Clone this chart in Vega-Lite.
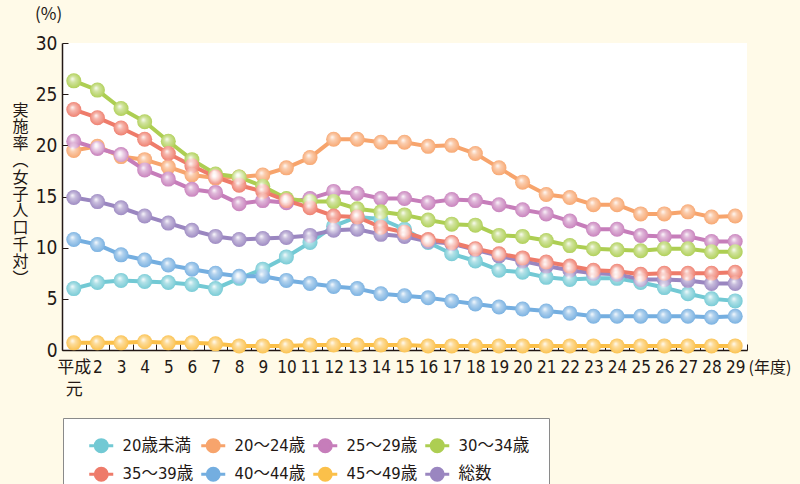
{
  "$schema": "https://vega.github.io/schema/vega-lite/v6.json",
  "width": 685,
  "height": 307,
  "autosize": {"type": "none"},
  "padding": {"left": 62, "top": 43, "right": 53, "bottom": 134},
  "background": "#FFFAE8",
  "config": {
    "view": {"fill": "white", "stroke": null},
    "font": "Liberation Sans Narrow, DejaVu Sans Condensed, Roboto Condensed, Noto Sans CJK JP"
  },
  "title": {
    "text": "(%)",
    "anchor": "start",
    "frame": "group",
    "dx": -27,
    "offset": 10,
    "fontSize": 17,
    "fontWeight": "normal",
    "font": "Noto Sans CJK JP",
    "color": "#231815"
  },
  "datasets": {
    "rates": [
      {"year":1,"group":"20歳未満","value":6.0},{"year":2,"group":"20歳未満","value":6.6},{"year":3,"group":"20歳未満","value":6.8},{"year":4,"group":"20歳未満","value":6.7},{"year":5,"group":"20歳未満","value":6.6},{"year":6,"group":"20歳未満","value":6.4},{"year":7,"group":"20歳未満","value":6.0},{"year":8,"group":"20歳未満","value":7.0},{"year":9,"group":"20歳未満","value":7.9},{"year":10,"group":"20歳未満","value":9.1},{"year":11,"group":"20歳未満","value":10.5},{"year":12,"group":"20歳未満","value":12.1},{"year":13,"group":"20歳未満","value":13.0},{"year":14,"group":"20歳未満","value":12.8},{"year":15,"group":"20歳未満","value":11.8},{"year":16,"group":"20歳未満","value":10.5},{"year":17,"group":"20歳未満","value":9.4},{"year":18,"group":"20歳未満","value":8.7},{"year":19,"group":"20歳未満","value":7.8},{"year":20,"group":"20歳未満","value":7.6},{"year":21,"group":"20歳未満","value":7.1},{"year":22,"group":"20歳未満","value":6.9},{"year":23,"group":"20歳未満","value":7.0},{"year":24,"group":"20歳未満","value":7.0},{"year":25,"group":"20歳未満","value":6.6},{"year":26,"group":"20歳未満","value":6.1},{"year":27,"group":"20歳未満","value":5.5},{"year":28,"group":"20歳未満","value":5.0},{"year":29,"group":"20歳未満","value":4.8},
      {"year":1,"group":"総数","value":14.9},{"year":2,"group":"総数","value":14.5},{"year":3,"group":"総数","value":13.9},{"year":4,"group":"総数","value":13.1},{"year":5,"group":"総数","value":12.4},{"year":6,"group":"総数","value":11.7},{"year":7,"group":"総数","value":11.1},{"year":8,"group":"総数","value":10.8},{"year":9,"group":"総数","value":10.9},{"year":10,"group":"総数","value":11.0},{"year":11,"group":"総数","value":11.2},{"year":12,"group":"総数","value":11.7},{"year":13,"group":"総数","value":11.8},{"year":14,"group":"総数","value":11.3},{"year":15,"group":"総数","value":11.1},{"year":16,"group":"総数","value":10.6},{"year":17,"group":"総数","value":10.4},{"year":18,"group":"総数","value":9.8},{"year":19,"group":"総数","value":9.2},{"year":20,"group":"総数","value":8.7},{"year":21,"group":"総数","value":8.2},{"year":22,"group":"総数","value":7.8},{"year":23,"group":"総数","value":7.5},{"year":24,"group":"総数","value":7.4},{"year":25,"group":"総数","value":6.9},{"year":26,"group":"総数","value":6.9},{"year":27,"group":"総数","value":6.8},{"year":28,"group":"総数","value":6.5},{"year":29,"group":"総数","value":6.5},
      {"year":1,"group":"20～24歳","value":19.5},{"year":2,"group":"20～24歳","value":19.9},{"year":3,"group":"20～24歳","value":18.9},{"year":4,"group":"20～24歳","value":18.6},{"year":5,"group":"20～24歳","value":17.9},{"year":6,"group":"20～24歳","value":17.1},{"year":7,"group":"20～24歳","value":16.8},{"year":8,"group":"20～24歳","value":16.9},{"year":9,"group":"20～24歳","value":17.1},{"year":10,"group":"20～24歳","value":17.8},{"year":11,"group":"20～24歳","value":18.8},{"year":12,"group":"20～24歳","value":20.6},{"year":13,"group":"20～24歳","value":20.6},{"year":14,"group":"20～24歳","value":20.3},{"year":15,"group":"20～24歳","value":20.3},{"year":16,"group":"20～24歳","value":19.9},{"year":17,"group":"20～24歳","value":20.0},{"year":18,"group":"20～24歳","value":19.2},{"year":19,"group":"20～24歳","value":17.8},{"year":20,"group":"20～24歳","value":16.4},{"year":21,"group":"20～24歳","value":15.2},{"year":22,"group":"20～24歳","value":14.9},{"year":23,"group":"20～24歳","value":14.2},{"year":24,"group":"20～24歳","value":14.2},{"year":25,"group":"20～24歳","value":13.3},{"year":26,"group":"20～24歳","value":13.3},{"year":27,"group":"20～24歳","value":13.5},{"year":28,"group":"20～24歳","value":13.0},{"year":29,"group":"20～24歳","value":13.1},
      {"year":1,"group":"25～29歳","value":20.4},{"year":2,"group":"25～29歳","value":19.7},{"year":3,"group":"25～29歳","value":19.1},{"year":4,"group":"25～29歳","value":17.6},{"year":5,"group":"25～29歳","value":16.7},{"year":6,"group":"25～29歳","value":15.7},{"year":7,"group":"25～29歳","value":15.4},{"year":8,"group":"25～29歳","value":14.3},{"year":9,"group":"25～29歳","value":14.6},{"year":10,"group":"25～29歳","value":14.4},{"year":11,"group":"25～29歳","value":14.8},{"year":12,"group":"25～29歳","value":15.5},{"year":13,"group":"25～29歳","value":15.3},{"year":14,"group":"25～29歳","value":14.8},{"year":15,"group":"25～29歳","value":14.8},{"year":16,"group":"25～29歳","value":14.4},{"year":17,"group":"25～29歳","value":14.7},{"year":18,"group":"25～29歳","value":14.6},{"year":19,"group":"25～29歳","value":14.2},{"year":20,"group":"25～29歳","value":13.7},{"year":21,"group":"25～29歳","value":13.3},{"year":22,"group":"25～29歳","value":12.6},{"year":23,"group":"25～29歳","value":11.8},{"year":24,"group":"25～29歳","value":11.8},{"year":25,"group":"25～29歳","value":11.2},{"year":26,"group":"25～29歳","value":11.1},{"year":27,"group":"25～29歳","value":11.1},{"year":28,"group":"25～29歳","value":10.6},{"year":29,"group":"25～29歳","value":10.6},
      {"year":1,"group":"30～34歳","value":26.3},{"year":2,"group":"30～34歳","value":25.4},{"year":3,"group":"30～34歳","value":23.6},{"year":4,"group":"30～34歳","value":22.3},{"year":5,"group":"30～34歳","value":20.4},{"year":6,"group":"30～34歳","value":18.6},{"year":7,"group":"30～34歳","value":17.2},{"year":8,"group":"30～34歳","value":16.9},{"year":9,"group":"30～34歳","value":16.0},{"year":10,"group":"30～34歳","value":14.8},{"year":11,"group":"30～34歳","value":14.5},{"year":12,"group":"30～34歳","value":14.5},{"year":13,"group":"30～34歳","value":13.8},{"year":14,"group":"30～34歳","value":13.5},{"year":15,"group":"30～34歳","value":13.2},{"year":16,"group":"30～34歳","value":12.7},{"year":17,"group":"30～34歳","value":12.3},{"year":18,"group":"30～34歳","value":12.2},{"year":19,"group":"30～34歳","value":11.2},{"year":20,"group":"30～34歳","value":11.1},{"year":21,"group":"30～34歳","value":10.7},{"year":22,"group":"30～34歳","value":10.2},{"year":23,"group":"30～34歳","value":9.9},{"year":24,"group":"30～34歳","value":9.8},{"year":25,"group":"30～34歳","value":9.7},{"year":26,"group":"30～34歳","value":9.9},{"year":27,"group":"30～34歳","value":9.9},{"year":28,"group":"30～34歳","value":9.6},{"year":29,"group":"30～34歳","value":9.6},
      {"year":1,"group":"35～39歳","value":23.5},{"year":2,"group":"35～39歳","value":22.7},{"year":3,"group":"35～39歳","value":21.7},{"year":4,"group":"35～39歳","value":20.6},{"year":5,"group":"35～39歳","value":19.2},{"year":6,"group":"35～39歳","value":18.0},{"year":7,"group":"35～39歳","value":16.9},{"year":8,"group":"35～39歳","value":16.1},{"year":9,"group":"35～39歳","value":15.5},{"year":10,"group":"35～39歳","value":14.6},{"year":11,"group":"35～39歳","value":13.9},{"year":12,"group":"35～39歳","value":13.1},{"year":13,"group":"35～39歳","value":13.0},{"year":14,"group":"35～39歳","value":12.0},{"year":15,"group":"35～39歳","value":11.5},{"year":16,"group":"35～39歳","value":10.8},{"year":17,"group":"35～39歳","value":10.5},{"year":18,"group":"35～39歳","value":9.9},{"year":19,"group":"35～39歳","value":9.4},{"year":20,"group":"35～39歳","value":9.0},{"year":21,"group":"35～39歳","value":8.6},{"year":22,"group":"35～39歳","value":8.2},{"year":23,"group":"35～39歳","value":7.8},{"year":24,"group":"35～39歳","value":7.7},{"year":25,"group":"35～39歳","value":7.4},{"year":26,"group":"35～39歳","value":7.5},{"year":27,"group":"35～39歳","value":7.5},{"year":28,"group":"35～39歳","value":7.5},{"year":29,"group":"35～39歳","value":7.6},
      {"year":1,"group":"40～44歳","value":10.8},{"year":2,"group":"40～44歳","value":10.3},{"year":3,"group":"40～44歳","value":9.3},{"year":4,"group":"40～44歳","value":8.8},{"year":5,"group":"40～44歳","value":8.3},{"year":6,"group":"40～44歳","value":7.9},{"year":7,"group":"40～44歳","value":7.5},{"year":8,"group":"40～44歳","value":7.2},{"year":9,"group":"40～44歳","value":7.2},{"year":10,"group":"40～44歳","value":6.8},{"year":11,"group":"40～44歳","value":6.5},{"year":12,"group":"40～44歳","value":6.2},{"year":13,"group":"40～44歳","value":6.0},{"year":14,"group":"40～44歳","value":5.5},{"year":15,"group":"40～44歳","value":5.3},{"year":16,"group":"40～44歳","value":5.1},{"year":17,"group":"40～44歳","value":4.8},{"year":18,"group":"40～44歳","value":4.5},{"year":19,"group":"40～44歳","value":4.2},{"year":20,"group":"40～44歳","value":4.0},{"year":21,"group":"40～44歳","value":3.8},{"year":22,"group":"40～44歳","value":3.6},{"year":23,"group":"40～44歳","value":3.3},{"year":24,"group":"40～44歳","value":3.3},{"year":25,"group":"40～44歳","value":3.3},{"year":26,"group":"40～44歳","value":3.3},{"year":27,"group":"40～44歳","value":3.3},{"year":28,"group":"40～44歳","value":3.2},{"year":29,"group":"40～44歳","value":3.3},
      {"year":1,"group":"45～49歳","value":0.7},{"year":2,"group":"45～49歳","value":0.7},{"year":3,"group":"45～49歳","value":0.7},{"year":4,"group":"45～49歳","value":0.8},{"year":5,"group":"45～49歳","value":0.7},{"year":6,"group":"45～49歳","value":0.7},{"year":7,"group":"45～49歳","value":0.6},{"year":8,"group":"45～49歳","value":0.4},{"year":9,"group":"45～49歳","value":0.4},{"year":10,"group":"45～49歳","value":0.4},{"year":11,"group":"45～49歳","value":0.5},{"year":12,"group":"45～49歳","value":0.5},{"year":13,"group":"45～49歳","value":0.5},{"year":14,"group":"45～49歳","value":0.5},{"year":15,"group":"45～49歳","value":0.5},{"year":16,"group":"45～49歳","value":0.4},{"year":17,"group":"45～49歳","value":0.4},{"year":18,"group":"45～49歳","value":0.4},{"year":19,"group":"45～49歳","value":0.4},{"year":20,"group":"45～49歳","value":0.4},{"year":21,"group":"45～49歳","value":0.4},{"year":22,"group":"45～49歳","value":0.4},{"year":23,"group":"45～49歳","value":0.4},{"year":24,"group":"45～49歳","value":0.4},{"year":25,"group":"45～49歳","value":0.4},{"year":26,"group":"45～49歳","value":0.4},{"year":27,"group":"45～49歳","value":0.4},{"year":28,"group":"45～49歳","value":0.4},{"year":29,"group":"45～49歳","value":0.4}
    ]
  },
  "data": {"name": "rates"},
  "encoding": {
    "x": {
      "field": "year",
      "type": "ordinal",
      "scale": {"type": "band", "paddingInner": 0, "paddingOuter": 0},
      "axis": {
        "labelAngle": 0,
        "labelExpr": "datum.value == 1 ? ['平成', '元'] : datum.label",
        "labelFontSize": 17,
        "labelColor": "#231815",
        "labelPadding": 15,
        "labelLineHeight": 22,
        "tickBand": "extent",
        "tickSize": -6,
        "tickColor": "#231815",
        "domainColor": "#231815",
        "domainWidth": 1.5,
        "title": "(年度)",
        "titleFont": "Noto Sans CJK JP",
        "titleFontSize": 16,
        "titleFontWeight": "normal",
        "titleColor": "#231815",
        "titleAlign": "left",
        "titleBaseline": "top",
        "titleX": 686,
        "titleY": 9
      }
    },
    "y": {
      "field": "value",
      "type": "quantitative",
      "scale": {"domain": [0, 30], "nice": false},
      "axis": {
        "values": [0, 5, 10, 15, 20, 25, 30],
        "grid": false,
        "labelFontSize": 19,
        "labelColor": "#231815",
        "labelPadding": 11,
        "tickSize": -6,
        "tickColor": "#231815",
        "domainColor": "#231815",
        "domainWidth": 1.5,
        "title": ["実", "施", "率", "︵", "女", "子", "人", "口", "千", "対", "︶"],
        "titleFont": "Noto Sans CJK JP",
        "titleFontSize": 16,
        "titleFontWeight": "normal",
        "titleColor": "#231815",
        "titleAngle": 0,
        "titleAlign": "center",
        "titleBaseline": "middle",
        "titleLineHeight": 16.8,
        "titleX": -42,
        "titleY": 67
      }
    }
  },
  "layer": [
    {
      "mark": {"type": "line", "strokeWidth": 4, "strokeCap": "round", "strokeJoin": "round"},
      "encoding": {
        "color": {
          "field": "group",
          "type": "nominal",
          "scale": {
            "domain": ["20歳未満", "20～24歳", "25～29歳", "30～34歳", "35～39歳", "40～44歳", "45～49歳", "総数"],
            "range": ["#72C9D4", "#F7A46C", "#C67DBA", "#ADCE52", "#EE7B6A", "#74AEE0", "#FBC04A", "#9A86C0"]
          },
          "legend": {
            "orient": "none",
            "legendX": 1,
            "legendY": 375,
            "direction": "horizontal",
            "columns": 4,
            "gridAlign": "all",
            "title": null,
            "fillColor": "white",
            "strokeColor": "#8a8a8a",
            "padding": 19,
            "rowPadding": 4,
            "columnPadding": -7,
            "symbolType": "M-2,0L-1,0M1,0L2,0M-1,0A1,1 0 1,0 1,0A1,1 0 1,0 -1,0Z",
            "symbolSize": 144,
            "symbolStrokeWidth": 3,
            "symbolOffset": 11,
            "labelOffset": 13,
            "labelFontSize": 16.5,
            "labelColor": "#231815",
            "labelFont": "Liberation Sans Narrow, DejaVu Sans Condensed, Noto Sans CJK JP",
            "encode": {
              "symbols": {
                "update": {
                  "fill": {"scale": "color", "field": "value"},
                  "stroke": {"scale": "color", "field": "value"},
                  "fillOpacity": {"value": 1}
                }
              }
            }
          }
        }
      }
    },
    {
      "mark": {"type": "point", "filled": true, "size": 225, "opacity": 1},
      "encoding": {
        "color": {"field": "group", "type": "nominal", "legend": null}
      }
    },
    {
      "mark": {
        "type": "point",
        "filled": true,
        "size": 225,
        "opacity": 1,
        "color": {
          "gradient": "radial",
          "x1": 0.4, "y1": 0.35, "r1": 0,
          "x2": 0.5, "y2": 0.5, "r2": 0.55,
          "stops": [
            {"offset": 0, "color": "rgba(255,255,255,0.95)"},
            {"offset": 0.35, "color": "rgba(255,255,255,0.45)"},
            {"offset": 1, "color": "rgba(255,255,255,0)"}
          ]
        }
      },
      "encoding": {}
    }
  ]
}
